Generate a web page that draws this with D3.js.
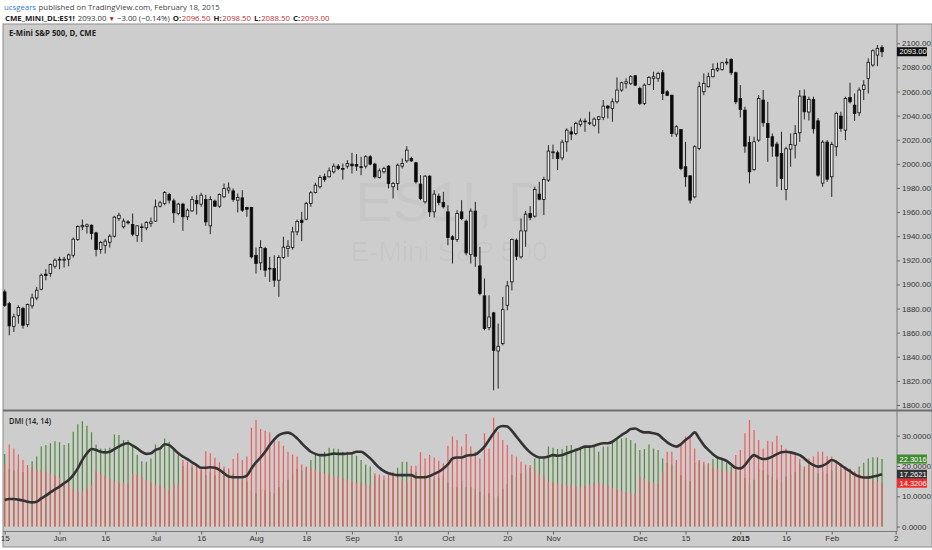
<!DOCTYPE html>
<html>
<head>
<meta charset="utf-8">
<script src="https://cdn.jsdelivr.net/npm/d3@7.9.0/dist/d3.min.js"></script>
<style>
  body { margin: 0; background: #fff; }
  svg { display: block; }
</style>
</head>
<body>
<svg id="chart" width="932" height="550"></svg>
<script>
// daily ES1! candles, May 15 2014 .. Feb 2015
const opens = [
  1893.8,1884.1,1865.3,1874.4,1880.0,1866.7,1882.2,1888.8,1896.0,1908.5,
  1909.0,1915.1,1920.1,1920.1,1920.9,1924.2,1937.2,1947.8,1948.0,1949.1,
  1942.8,1928.9,1932.3,1935.0,1940.0,1954.7,1947.8,1951.9,1949.7,1940.6,
  1947.2,1946.9,1950.5,1952.5,1964.9,1967.1,1974.6,1969.3,1958.8,1966.6,
  1956.1,1961.0,1969.6,1966.6,1970.4,1948.6,1969.1,1964.9,1972.7,1978.2,
  1977.6,1969.9,1971.8,1963.8,1963.8,1924.2,1917.9,1929.8,1912.9,1913.2,
  1903.5,1922.3,1929.8,1930.6,1943.6,1953.3,1954.1,1967.1,1976.3,1981.0,
  1989.3,1989.3,1993.4,1998.1,1996.2,1998.1,1999.8,1999.5,1997.6,1998.1,
  2005.9,1999.8,1988.7,1993.4,1998.1,1981.0,1983.7,1998.1,2002.5,2004.5,
  2000.9,1983.2,1968.5,1989.8,1960.2,1973.2,1968.0,1960.2,1939.5,1937.2,
  1960.2,1952.5,1924.8,1960.8,1915.4,1890.5,1864.2,1876.4,1844.8,1850.9,
  1882.7,1902.1,1936.7,1922.9,1944.4,1958.8,1956.6,1974.9,1970.4,1986.5,
  2009.2,2009.2,2005.0,2018.3,2026.6,2025.2,2032.7,2035.5,2033.5,2032.1,
  2036.8,2038.5,2047.9,2046.0,2051.5,2061.2,2066.7,2066.7,2073.1,2062.6,
  2050.1,2065.9,2070.9,2070.9,2075.6,2059.8,2057.0,2024.7,2028.5,1997.6,
  1990.1,1972.6,2012.8,2059.8,2064.0,2072.3,2077.8,2078.3,2084.4,2086.7,
  2075.6,2054.3,2044.6,2017.8,1995.3,2019.7,2052.9,2033.5,2022.5,2016.4,
  2008.6,1978.7,2012.2,2015.5,2025.8,2056.2,2043.0,2053.4,2035.7,1984.0,
  2018.0,1989.3,2014.2,2039.6,2028.0,2055.1,2048.7,2042.4,2061.7,2070.9,
  2082.0,2090.2,2096.5
];
const highs = [
  1895.7,1885.5,1875.8,1882.7,1881.4,1884.1,1892.4,1898.0,1909.0,1912.6,
  1917.3,1921.5,1922.9,1922.9,1925.6,1938.9,1949.1,1953.8,1950.5,1949.7,
  1943.6,1936.1,1937.8,1941.7,1956.9,1959.4,1954.7,1953.3,1958.8,1949.1,
  1950.5,1952.5,1955.5,1970.4,1969.3,1977.4,1976.0,1971.3,1967.7,1967.7,
  1963.0,1973.2,1974.0,1976.0,1974.3,1973.2,1970.4,1975.4,1983.7,1984.6,
  1979.6,1975.4,1978.2,1964.4,1964.4,1930.6,1936.7,1931.2,1922.9,1924.2,
  1924.2,1939.5,1936.7,1947.8,1953.8,1960.2,1968.5,1977.4,1984.3,1990.6,
  1992.0,1997.0,2000.3,1999.8,2000.3,2003.1,2009.2,2008.1,2005.9,2007.2,
  2007.2,2000.9,1996.2,1997.6,1998.9,1985.1,2000.3,2004.5,2014.7,2005.9,
  2001.7,1990.6,1990.6,1990.6,1978.2,1975.4,1976.8,1965.7,1940.8,1961.6,
  1969.9,1953.8,1963.0,1968.5,1931.2,1904.9,1891.0,1877.2,1867.5,1889.7,
  1902.9,1938.1,1938.1,1954.7,1961.0,1964.9,1981.0,1985.1,1989.3,2015.5,
  2016.0,2011.0,2020.0,2029.4,2030.8,2034.9,2037.7,2037.7,2043.2,2038.5,
  2039.6,2052.9,2048.7,2054.3,2071.7,2068.1,2070.9,2073.6,2073.6,2064.0,
  2066.7,2072.8,2076.4,2076.4,2077.8,2061.2,2057.0,2032.1,2028.5,2018.3,
  1990.6,2015.5,2068.1,2075.0,2075.6,2083.3,2083.9,2084.7,2087.5,2087.5,
  2076.4,2065.3,2047.4,2023.0,2022.5,2057.0,2061.2,2051.5,2025.2,2018.3,
  2026.6,2014.2,2025.2,2032.1,2061.2,2061.7,2055.7,2055.7,2038.0,2019.7,
  2019.7,2018.3,2043.2,2043.2,2055.7,2067.3,2058.4,2063.4,2069.5,2087.5,
  2095.0,2098.5,2098.5
];
const lows = [
  1881.4,1857.8,1860.6,1867.5,1863.4,1864.7,1880.0,1886.9,1895.2,1903.5,
  1906.3,1913.2,1912.6,1914.0,1915.1,1922.3,1936.1,1945.0,1942.2,1937.2,
  1923.4,1925.6,1925.6,1930.6,1938.9,1952.7,1946.4,1949.7,1940.0,1935.3,
  1935.3,1945.0,1947.8,1951.9,1963.8,1965.7,1967.1,1951.1,1957.4,1944.4,
  1953.3,1960.2,1958.0,1964.4,1948.6,1941.7,1964.4,1963.5,1971.8,1975.4,
  1968.5,1959.7,1960.2,1956.1,1921.5,1909.0,1911.8,1906.3,1902.1,1898.0,
  1889.7,1921.2,1922.9,1928.9,1940.8,1935.9,1953.3,1964.4,1975.4,1979.6,
  1985.1,1988.7,1992.0,1994.8,1987.0,1996.2,1992.0,1994.2,1990.6,1996.2,
  1998.9,1987.9,1987.9,1992.0,1979.6,1971.3,1978.2,1996.2,2000.9,2001.7,
  1983.7,1969.9,1967.1,1956.1,1955.5,1965.7,1963.0,1932.5,1917.3,1935.3,
  1953.3,1924.2,1917.3,1914.6,1891.0,1862.0,1862.0,1812.2,1813.6,1849.5,
  1878.6,1895.0,1920.1,1921.5,1931.2,1953.3,1955.5,1969.9,1957.4,1985.1,
  2004.0,1994.8,2003.0,2010.0,2019.7,2023.8,2030.8,2026.6,2032.1,2030.8,
  2025.2,2036.3,2037.7,2034.9,2050.1,2059.8,2062.6,2065.3,2064.5,2048.7,
  2048.7,2065.3,2061.2,2068.1,2052.9,2056.2,2022.5,2022.5,1994.8,1981.0,
  1967.1,1971.3,2011.4,2057.0,2063.4,2071.7,2076.4,2077.2,2081.9,2073.6,
  2049.6,2038.5,2009.2,1983.7,1994.2,2018.3,2030.8,2001.7,2005.9,1981.0,
  1978.2,1969.9,1997.6,2004.5,2018.3,2036.8,2036.0,2025.2,1989.3,1981.0,
  1985.1,1972.6,2006.4,2026.6,2019.7,2050.1,2035.7,2039.6,2052.9,2058.4,
  2080.6,2081.1,2088.5
];
const closes = [
  1882.7,1865.6,1873.1,1880.8,1866.1,1883.3,1888.8,1895.2,1907.6,1907.4,
  1916.5,1920.1,1920.9,1920.9,1924.5,1937.5,1948.0,1948.9,1949.4,1942.2,
  1928.9,1934.8,1935.9,1940.0,1955.8,1957.4,1952.5,1951.1,1941.7,1948.6,
  1947.8,1951.4,1951.9,1964.4,1967.7,1976.3,1969.9,1959.4,1966.6,1956.1,
  1961.6,1970.4,1966.9,1974.0,1951.9,1970.4,1964.9,1974.6,1979.6,1980.1,
  1970.4,1972.1,1961.6,1962.4,1922.9,1917.3,1930.6,1911.8,1913.4,1903.5,
  1922.3,1930.9,1931.7,1943.6,1952.2,1951.4,1967.1,1976.0,1982.3,1988.7,
  1987.0,1994.2,1998.1,1996.2,1995.6,2000.3,1998.4,1998.1,1997.3,2005.9,
  1999.8,1989.3,1994.2,1996.2,1983.7,1983.7,1998.9,2000.3,2011.4,2002.5,
  1985.1,1971.3,1989.8,1960.2,1974.9,1968.0,1964.4,1938.9,1937.2,1958.8,
  1954.7,1926.2,1960.8,1923.4,1892.4,1863.4,1873.0,1845.4,1848.7,1879.1,
  1898.8,1937.2,1923.4,1944.4,1958.3,1955.5,1978.7,1970.7,1987.0,2010.6,
  2010.0,2004.5,2018.0,2028.0,2024.7,2033.5,2035.5,2035.0,2034.1,2037.1,
  2039.1,2047.9,2046.3,2051.5,2061.2,2067.3,2068.1,2072.3,2065.3,2050.1,
  2065.3,2071.7,2072.3,2075.0,2058.4,2056.8,2025.2,2030.8,1996.2,1989.3,
  1969.9,2014.2,2064.0,2066.7,2072.3,2078.3,2079.2,2083.9,2084.2,2075.6,
  2051.5,2045.1,2014.7,1993.4,2018.3,2054.3,2034.1,2021.9,2014.7,2006.4,
  1987.9,2012.5,2016.1,2025.2,2056.2,2043.2,2053.4,2029.1,1990.6,2018.0,
  1987.3,2016.1,2041.8,2029.4,2054.3,2051.5,2041.8,2061.2,2065.3,2084.2,
  2093.8,2095.8,2093.0
];

// DMI (14, 14)
const plusDI = [
  24.0,19.0,18.5,19.0,18.0,19.5,21.6,23.1,26.4,26.9,
  27.5,28.2,27.8,26.9,27.5,31.3,33.8,34.8,33.3,31.1,
  27.1,25.8,25.8,26.0,30.4,30.2,28.6,28.6,26.9,23.6,
  21.6,21.4,22.5,27.1,25.8,29.1,28.0,25.3,23.6,20.0,
  19.5,19.5,18.5,18.5,17.0,18.0,17.0,18.0,19.0,18.5,
  17.5,16.5,15.5,15.0,12.0,11.0,12.5,12.0,11.5,11.0,
  13.0,14.5,15.5,17.5,19.0,18.5,19.5,22.0,23.6,23.6,
  24.7,26.0,25.8,25.6,24.7,24.7,24.2,23.4,22.0,20.5,
  19.8,16.8,16.2,15.5,16.0,17.5,19.4,21.4,21.4,19.0,
  18.0,16.0,17.0,16.0,15.5,16.0,16.5,14.5,13.0,13.0,
  15.0,13.0,13.0,12.5,11.5,10.5,11.0,9.5,10.0,12.5,
  14.0,17.0,16.5,17.5,18.5,19.5,22.5,22.3,23.1,26.4,
  26.0,25.6,25.6,26.7,26.9,25.8,26.4,26.7,26.9,26.4,
  24.7,26.4,26.4,28.0,28.6,29.1,29.3,28.6,27.5,25.3,
  25.6,27.1,25.8,25.3,22.5,21.0,20.5,21.0,17.0,15.5,
  15.0,21.0,21.5,20.5,20.5,22.3,22.3,22.0,21.2,19.8,
  19.5,18.5,16.0,14.0,15.5,19.0,18.5,17.0,16.5,15.5,
  14.5,16.5,17.0,18.0,20.5,19.0,20.5,19.5,17.5,18.5,
  17.5,18.5,20.0,19.0,19.5,19.0,18.0,19.8,21.1,22.5,
  22.9,22.9,22.3016
];
const minusDI = [
  20.3,27.1,25.8,23.8,22.0,20.3,19.5,18.6,18.7,18.1,
  17.6,16.8,15.9,15.0,14.3,12.6,11.3,11.7,12.6,13.7,
  18.3,17.6,16.8,15.9,15.0,14.3,14.6,14.3,17.6,17.0,
  16.5,15.4,14.6,13.7,13.7,12.6,12.1,14.3,14.0,22.0,
  21.4,20.5,19.8,19.2,24.9,24.2,22.7,21.2,19.8,19.2,
  22.3,24.2,22.0,23.1,32.6,35.2,32.2,31.6,31.1,29.1,
  28.2,26.7,24.7,23.8,23.1,20.5,19.8,19.5,18.8,18.0,
  17.6,17.2,16.8,16.3,16.0,15.6,15.0,14.5,14.3,14.0,
  13.6,17.6,17.2,16.8,17.0,18.1,16.0,15.2,14.6,20.1,
  20.1,24.5,22.5,23.6,22.8,21.7,20.9,26.7,29.7,28.6,
  26.4,30.6,26.4,24.7,22.5,30.8,25.8,35.9,31.3,28.6,
  26.9,23.8,23.1,21.4,20.5,20.3,18.5,17.5,16.5,15.0,
  14.6,14.3,14.0,13.5,13.8,13.2,13.0,13.5,13.8,14.3,
  14.5,13.8,13.5,12.8,12.2,11.8,11.4,11.0,10.8,16.5,
  15.8,14.8,14.5,14.0,18.0,24.7,24.7,22.0,26.9,29.7,
  29.3,25.8,22.0,21.4,20.9,19.5,19.0,18.8,18.5,18.0,
  23.6,25.3,30.8,35.2,31.9,28.6,25.8,28.3,28.0,30.0,
  26.9,25.8,24.7,23.6,22.3,19.8,22.5,23.1,24.7,24.7,
  23.1,23.1,22.0,20.9,19.8,19.2,18.3,17.8,17.0,16.2,
  15.5,15.0,14.3206
];
const adx = [
  8.8,9.1,9.1,8.9,8.6,8.2,8.0,8.2,9.3,10.2,
  11.3,12.3,13.2,14.3,15.4,17.0,19.2,22.0,24.2,25.6,
  25.3,24.7,24.5,24.7,25.6,26.4,27.2,27.5,26.7,25.8,
  24.7,24.0,24.2,25.3,25.8,27.2,26.9,25.6,24.2,23.1,
  22.3,21.2,20.3,19.4,19.4,19.6,19.4,18.7,17.6,16.5,
  16.3,16.3,16.3,16.8,19.2,21.2,22.8,24.7,26.9,28.8,
  30.2,30.8,31.0,30.4,29.1,27.5,26.0,24.7,24.0,23.6,
  23.6,23.8,24.1,24.0,24.0,24.1,24.2,24.7,24.7,23.8,
  22.5,20.9,19.4,18.3,17.6,17.2,17.0,17.0,17.0,17.0,
  16.3,16.3,16.3,16.7,17.4,18.1,19.2,20.5,22.5,22.8,
  22.8,23.4,23.6,23.8,24.9,26.4,28.6,30.8,32.7,33.2,
  33.0,31.6,29.7,27.8,26.0,24.5,23.4,22.8,22.8,23.1,
  23.6,23.4,23.6,24.2,24.7,25.3,25.8,26.4,26.4,26.7,
  27.2,27.5,27.5,28.0,29.1,30.2,31.1,32.2,32.4,31.6,
  31.1,31.1,30.8,30.4,29.1,27.8,26.9,26.4,27.2,28.6,
  29.7,31.1,29.1,26.9,25.3,23.9,22.8,22.3,21.7,20.5,
  19.4,19.2,20.3,22.3,23.6,22.8,22.3,22.5,23.1,23.9,
  24.5,24.7,24.5,24.1,23.6,22.5,21.2,20.3,19.8,20.1,
  20.9,22.0,21.4,20.3,19.2,18.3,17.2,16.5,16.2,16.2,
  16.5,16.8,17.2621
];

// axis ticks
const priceTicks = [1800, 1820, 1840, 1860, 1880, 1900, 1920, 1940, 1960, 1980, 2000, 2020, 2040, 2060, 2080, 2100];
const dmiTicks = [0, 10, 20, 30];
const timeTickBars = [1, 13, 23, 34, 44, 56, 67, 77, 87, 98, 111, 121, 140, 150, 162, 172, 182, 196];
const timeTickLabels = ['15', 'Jun', '16', 'Jul', '16', 'Aug', '18', 'Sep', '16', 'Oct', '20', 'Nov', 'Dec', '15', '2015', '16', 'Feb', '2'];

const bg = '#cdcdcd';
const axisFont = '"Liberation Sans", Arial, sans-serif';
const uiFont = '"Open Sans", "Liberation Sans", sans-serif';

const svg = d3.select('#chart');

// frame
const left = 3, axisX = 897, mainTop = 24, mainBottom = 410, dmiTop = 412, dmiBottom = 531.5, frameBottom = 547;

svg.append('rect')
  .attr('x', left).attr('y', mainTop)
  .attr('width', 932 - left).attr('height', frameBottom - mainTop)
  .attr('fill', bg).attr('stroke', '#8c8c8c').attr('stroke-width', 1);

const defs = svg.append('defs');
defs.append('clipPath').attr('id', 'clip-main')
  .append('rect').attr('x', left).attr('y', mainTop).attr('width', axisX - left).attr('height', mainBottom - mainTop);
defs.append('clipPath').attr('id', 'clip-dmi')
  .append('rect').attr('x', left).attr('y', dmiTop).attr('width', axisX - left).attr('height', dmiBottom - dmiTop);

// scales
const x = d3.scaleLinear().domain([1, 193]).range([4.7, 882]);
const y = d3.scaleLinear().domain([1800, 2100]).range([405, 43.3]);
const yd = d3.scaleLinear().domain([0, 30]).range([526.6, 435.7]);

const bars = opens.map((o, i) => ({ n: i + 1, o, h: highs[i], l: lows[i], c: closes[i] }));

// watermark
const wm = svg.append('g').attr('fill', '#000').attr('fill-opacity', 0.03)
  .attr('font-family', axisFont).attr('text-anchor', 'middle');
wm.append('text').attr('x', 452).attr('y', 221).attr('font-size', 56).text('ES1!, D');
wm.append('text').attr('x', 449).attr('y', 261).attr('font-size', 28).text('E-Mini S&P 500');

// candles
const main = svg.append('g').attr('clip-path', 'url(#clip-main)');
const candle = main.selectAll('g.candle').data(bars).join('g').attr('class', 'candle');

candle.append('line')
  .attr('x1', d => x(d.n)).attr('x2', d => x(d.n))
  .attr('y1', d => y(d.h)).attr('y2', d => y(d.l))
  .attr('stroke', '#111').attr('stroke-width', 0.9);

candle.append('rect')
  .attr('x', d => x(d.n) - 1.3)
  .attr('width', 2.6)
  .attr('y', d => y(Math.max(d.o, d.c)))
  .attr('height', d => Math.max(0.8, Math.abs(y(d.o) - y(d.c))))
  .attr('fill', d => d.c >= d.o ? '#e6e6e6' : '#0a0a0a')
  .attr('stroke', '#111').attr('stroke-width', 0.8);

// DMI panel
const dmi = svg.append('g').attr('clip-path', 'url(#clip-dmi)');

dmi.selectAll('line.plus').data(plusDI).join('line').attr('class', 'plus')
  .attr('x1', (d, i) => x(i + 1)).attr('x2', (d, i) => x(i + 1))
  .attr('y1', yd(0)).attr('y2', d => yd(d))
  .attr('stroke', '#4f8a3a').attr('stroke-width', 1.2);

dmi.selectAll('line.minus').data(minusDI).join('line').attr('class', 'minus')
  .attr('x1', (d, i) => x(i + 1)).attr('x2', (d, i) => x(i + 1))
  .attr('y1', yd(0)).attr('y2', d => yd(d))
  .attr('stroke', '#f05a58').attr('stroke-width', 1.2);

dmi.append('path')
  .datum(adx)
  .attr('fill', 'none').attr('stroke', '#333').attr('stroke-width', 2.6)
  .attr('stroke-linejoin', 'round')
  .attr('d', d3.line().x((d, i) => x(i + 1)).y(d => yd(d)).curve(d3.curveMonotoneX));

// separators
svg.append('line').attr('x1', left).attr('x2', 932).attr('y1', 410.5).attr('y2', 410.5)
  .attr('stroke', '#6e6e6e').attr('stroke-width', 2);
svg.append('line').attr('x1', left).attr('x2', axisX).attr('y1', dmiBottom).attr('y2', dmiBottom)
  .attr('stroke', '#7a7a7a').attr('stroke-width', 1);
svg.append('line').attr('x1', axisX).attr('x2', axisX).attr('y1', mainTop).attr('y2', dmiBottom)
  .attr('stroke', '#7a7a7a').attr('stroke-width', 1);

// axes
function styleAxis(g) {
  g.select('.domain').remove();
  g.selectAll('.tick line').attr('stroke', '#666');
  g.selectAll('.tick text').attr('fill', '#333').attr('font-family', axisFont).attr('font-size', 8);
}

svg.append('g')
  .attr('transform', `translate(${axisX},0)`)
  .call(d3.axisRight(y).tickValues(priceTicks).tickFormat(d3.format('.2f')).tickSize(3).tickPadding(2))
  .call(styleAxis);

svg.append('g')
  .attr('transform', `translate(${axisX},0)`)
  .call(d3.axisRight(yd).tickValues(dmiTicks).tickFormat(d3.format('.4f')).tickSize(3).tickPadding(2))
  .call(styleAxis);

svg.append('g')
  .attr('transform', `translate(0,${dmiBottom})`)
  .call(d3.axisBottom(x).tickValues(timeTickBars).tickFormat((d, i) => timeTickLabels[i]).tickSize(3).tickPadding(1))
  .call(styleAxis)
  .call(g => g.selectAll('.tick text').attr('font-weight', (d, i) => timeTickLabels[i] === '2015' ? 'bold' : null));

// last-value boxes
const boxes = [
  { v: y(closes[closes.length - 1]), text: d3.format('.2f')(closes[closes.length - 1]), fill: '#111' },
  { v: yd(plusDI[plusDI.length - 1]), text: d3.format('.4f')(plusDI[plusDI.length - 1]), fill: '#3f8a2c' },
  { v: yd(adx[adx.length - 1]), text: d3.format('.4f')(adx[adx.length - 1]), fill: '#333' },
  { v: yd(minusDI[minusDI.length - 1]), text: d3.format('.4f')(minusDI[minusDI.length - 1]), fill: '#f02b2b' }
];
const box = svg.append('g').selectAll('g').data(boxes).join('g')
  .attr('transform', d => `translate(${axisX},${d.v})`);
box.append('rect').attr('x', 0).attr('y', -4.5).attr('width', 30).attr('height', 9)
  .attr('fill', d => d.fill);
box.append('text').attr('x', 2.5).attr('dy', '0.35em')
  .attr('fill', '#fff').attr('font-family', axisFont).attr('font-size', 7.5)
  .text(d => d.text);

// pane titles
svg.append('text').attr('x', 9).attr('y', 36).attr('font-family', uiFont).attr('font-size', 8.5)
  .attr('font-weight', 'bold').attr('fill', '#222')
  .attr('textLength', 87).attr('lengthAdjust', 'spacingAndGlyphs')
  .text('E-Mini S&P 500, D, CME');
svg.append('text').attr('x', 9).attr('y', 423.5).attr('font-family', uiFont).attr('font-size', 8.5)
  .attr('font-weight', 600).attr('fill', '#222')
  .attr('textLength', 42).attr('lengthAdjust', 'spacingAndGlyphs')
  .text('DMI (14, 14)');

// header, one flowing line each
const line1 = [
  { t: 'ucsgears', fill: '#2f7cc6' },
  { t: 'published on TradingView.com, February 18, 2015', fill: '#444', dx: 2.5 }
];
const line2 = [
  { t: 'CME_MINI_DL:ES1!', fill: '#222', bold: true },
  { t: '2093.00', fill: '#333', dx: 3 },
  { t: '\u25BC', fill: '#b5121b', dx: 2, size: 6.5 },
  { t: '\u22123.00 (\u22120.14%)', fill: '#333', dx: 2 },
  { t: 'O:', fill: '#222', bold: true, dx: 3 },
  { t: '2096.50', fill: '#c0302e', dx: 0.5 },
  { t: 'H:', fill: '#222', bold: true, dx: 3 },
  { t: '2098.50', fill: '#c0302e', dx: 0.5 },
  { t: 'L:', fill: '#222', bold: true, dx: 3 },
  { t: '2088.50', fill: '#c0302e', dx: 0.5 },
  { t: 'C:', fill: '#222', bold: true, dx: 3 },
  { t: '2093.00', fill: '#c0302e', dx: 0.5 }
];
function headerLine(parts, xPos, yPos) {
  svg.append('text')
    .attr('x', xPos).attr('y', yPos)
    .attr('font-family', uiFont).attr('font-size', 7.8)
    .selectAll('tspan').data(parts).join('tspan')
    .attr('dx', d => d.dx || 0)
    .attr('fill', d => d.fill)
    .attr('font-weight', d => d.bold ? 'bold' : null)
    .attr('font-size', d => d.size || null)
    .text(d => d.t);
}
headerLine(line1, 4, 10);
headerLine(line2, 5, 20.5);
</script>
</body>
</html>
